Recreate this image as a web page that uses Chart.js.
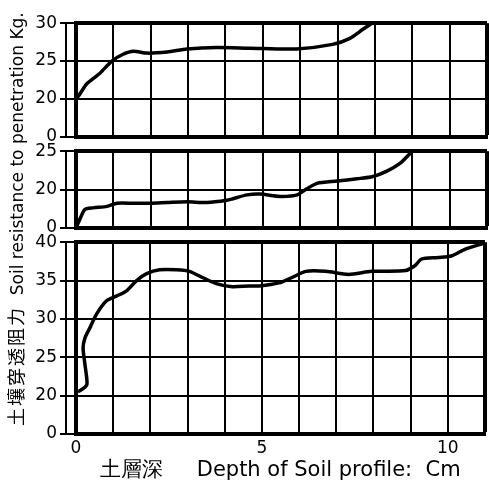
<!DOCTYPE html>
<html lang="ja">
<head>
<meta charset="UTF-8" />
<title>土壤穿透阻力</title>
<script src="https://cdn.jsdelivr.net/npm/chart.js"></script>
<style>
  body, html { margin: 0; padding: 0; background: #fff; font-family: "DejaVu Sans", sans-serif; }
  #wrap { position: relative; width: 489px; height: 498px; overflow: hidden; }
  .panel { position: absolute; left: 0; width: 489px; }
  #p1 { top: 10px; height: 140px; }
  #p2 { top: 138px; height: 103px; }
  #p3 { top: 229px; height: 269px; }
  #ytitle { position: absolute; left: 2px; top: 426px; width: 430px; transform-origin: 0 0;
            transform: rotate(-90deg); font-size: 17px; white-space: nowrap; color: #000; }
  #ytitle .cjk { font-family: "Noto Sans CJK JP", sans-serif; font-size: 18px; letter-spacing: 2px; }
</style>
</head>
<body>
<div id="wrap">
  <div class="panel" id="p1"><canvas id="c1"></canvas></div>
  <div class="panel" id="p2"><canvas id="c2"></canvas></div>
  <div class="panel" id="p3"><canvas id="c3"></canvas></div>
  <div id="ytitle"><span class="cjk">土壤穿透阻力</span>&nbsp;&nbsp;Soil resistance to penetration Kg.</div>
</div>

<script>
// depth (cm) / resistance (kg)
const depth1 = [0, 0.04, 0.15, 0.29, 0.64, 0.96, 1.26, 1.53, 1.9, 2.44, 2.97, 3.77, 4.66, 5.9, 6.87, 7.33, 7.68, 7.92];
const resist1 = [21.3, 20.2, 21.0, 22.0, 23.4, 25.0, 25.9, 26.3, 26.05, 26.2, 26.6, 26.8, 26.7, 26.6, 27.2, 28.0, 29.2, 30.0];

const depth2 = [0, 0.11, 0.24, 0.46, 0.83, 1.1, 1.53, 1.98, 2.44, 2.97, 3.51, 4.04, 4.2, 4.58, 4.93, 5.46, 5.92, 6.18, 6.45, 6.99, 7.52, 7.95, 8.32, 8.67, 8.94, 8.99];
const resist2 = [15, 16.2, 17.4, 17.6, 17.8, 18.2, 18.2, 18.2, 18.3, 18.4, 18.3, 18.6, 18.8, 19.3, 19.4, 19.1, 19.3, 20.1, 20.8, 21.1, 21.4, 21.7, 22.4, 23.4, 24.7, 25];

const depth3 = [0.05, 0.19, 0.29, 0.29, 0.24, 0.19, 0.24, 0.37, 0.56, 0.83, 1.1, 1.37, 1.63, 1.9, 2.25, 2.7, 3.05, 3.4, 3.77, 4.2, 4.66, 4.93, 5.46, 5.81, 6.18, 6.72, 7.33, 7.95, 8.86, 9.13, 9.29, 9.74, 10.09, 10.47, 11];
const resist3 = [20.5, 20.9, 21.4, 22.2, 24.1, 26.2, 27.5, 28.8, 30.7, 32.4, 33.0, 33.7, 35.0, 35.9, 36.4, 36.4, 36.2, 35.4, 34.6, 34.2, 34.3, 34.3, 34.7, 35.4, 36.2, 36.2, 35.8, 36.2, 36.3, 37.0, 37.8, 38.0, 38.2, 39.1, 39.9];

const xLabels = [0, 5, 10];
const xTitle = '土層深     Depth of Soil profile:  Cm';

// the y axes are broken: the lowest gridline is labelled 0
const panels = [
  { id: 'c1', xs: depth1, ys: resist1, yMin: 15, yMax: 30, bottom: false },
  { id: 'c2', xs: depth2, ys: resist2, yMin: 15, yMax: 25, bottom: false },
  { id: 'c3', xs: depth3, ys: resist3, yMin: 15, yMax: 40, bottom: true }
];

// the vertical axis line sits a little left of the frame
const bracket = {
  id: 'bracket',
  afterDraw(chart) {
    const a = chart.chartArea, ctx = chart.ctx;
    ctx.save();
    ctx.strokeStyle = '#000';
    ctx.lineWidth = 2;
    ctx.beginPath();
    ctx.moveTo(a.left - 10, a.top);
    ctx.lineTo(a.left - 10, a.bottom);
    ctx.stroke();
    ctx.restore();
  }
};

panels.forEach(p => {
  const pts = p.xs.map((x, i) => ({ x: x, y: p.ys[i] }));
  new Chart(document.getElementById(p.id), {
    type: 'line',
    data: {
      datasets: [{
        data: pts,
        borderColor: '#000',
        borderWidth: 3.5,
        pointRadius: 0,
        tension: 0.25,
        fill: false
      }]
    },
    options: {
      responsive: true,
      maintainAspectRatio: false,
      animation: false,
      layout: { padding: { top: 4, bottom: p.bottom ? 0 : 4, right: 2, left: 0 } },
      plugins: { legend: { display: false }, tooltip: { enabled: false } },
      scales: {
        x: {
          type: 'linear',
          min: 0,
          max: 11,
          ticks: {
            stepSize: 1,
            display: p.bottom,
            padding: 4,
            color: '#000',
            font: { size: 17, family: 'DejaVu Sans' },
            maxRotation: 0,
            callback: v => xLabels.includes(v) ? String(v) : ''
          },
          grid: {
            color: '#000',
            lineWidth: c => (c.tick && c.tick.value === 11) ? 4 : 2,
            drawTicks: false
          },
          border: { color: '#000', width: 4 },
          title: {
            display: p.bottom,
            text: xTitle,
            color: '#000',
            font: { size: 21, family: 'DejaVu Sans' },
            padding: { top: 4, bottom: 15 }
          },
          afterFit: s => { s.height = p.bottom ? 64 : 0; }
        },
        y: {
          min: p.yMin,
          max: p.yMax,
          ticks: {
            stepSize: 5,
            padding: 3,
            color: '#000',
            font: { size: 17, family: 'DejaVu Sans' },
            callback: v => v === p.yMin ? '0' : String(v)
          },
          grid: {
            color: '#000',
            lineWidth: c => (c.tick && c.tick.value === p.yMax) ? 4 : 2,
            tickLength: 16,
            tickColor: '#000',
            tickWidth: 2
          },
          border: { color: '#000', width: 4 },
          afterFit: s => { s.width = 76; }
        }
      }
    },
    plugins: [bracket]
  });
});
</script>
</body>
</html>
